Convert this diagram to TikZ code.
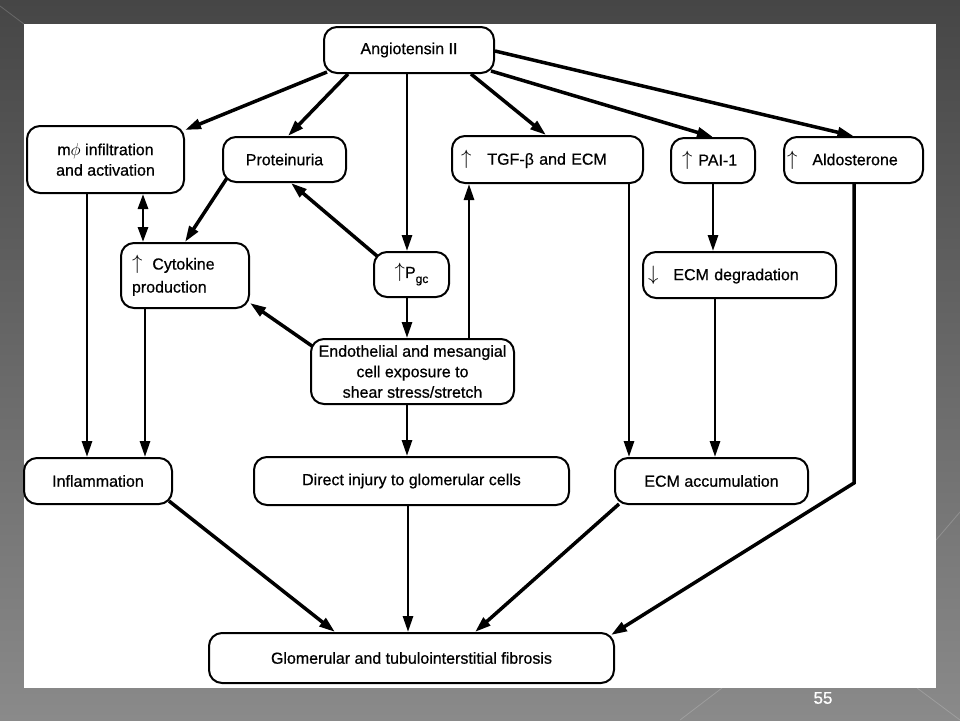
\documentclass[tikz,border=0pt]{standalone}
\usepackage{fontspec}
\setmainfont{Liberation Sans}[FakeBold=0.6]
\usetikzlibrary{arrows.meta}
\definecolor{bgtop}{HTML}{464646}
\definecolor{bgbot}{HTML}{8A8A8A}
\newcommand{\upa}{{\fontsize{21}{21}\selectfont$\uparrow$}}
\newcommand{\dna}{{\fontsize{21}{21}\selectfont$\downarrow$}}
\begin{document}
\begin{tikzpicture}[x=1pt,y=-1pt,
  box/.style={draw=black, line width=2pt, rounded corners=13pt, fill=white,
    inner sep=0pt, align=center, font=\fontsize{16}{20.5}\selectfont},
  lbox/.style={box, align=left},
  conn/.style={line width=2.8pt, -{Triangle[length=16pt,width=10pt]}},
  diag/.style={conn, line width=3.5pt},
  dbl/.style={line width=2.8pt, {Triangle[length=15pt,width=10pt]}-{Triangle[length=15pt,width=10pt]}},
  deco/.style={draw=white, opacity=0.18, line width=0.8pt}]
% background
\useasboundingbox (0,0) rectangle (960,720);
\shade[top color=bgtop, bottom color=bgbot] (0,0) rectangle (960,720);
\draw[deco] (0,6) -- (24,24);
\draw[deco] (680,720) -- (722,688);
\draw[deco] (917,688) -- (960,720);
\draw[deco] (936,540) -- (960,512);
\fill[white] (24,24) rectangle (936,688);
\node[text=white, font=\fontsize{17}{17}\selectfont] (pg) at (823,698) {55};

% boxes
\node[box, minimum width=170pt, minimum height=46pt] (ang) at (409,50) {Angiotensin II};
\node[box, minimum width=157pt, minimum height=67pt] (mphi) at (105.5,159.5)
  {m$\phi$ infiltration\\and activation};
\node[box, minimum width=123pt, minimum height=45pt] (prot) at (284.5,159.5) {Proteinuria};
\node[lbox, text width=173pt, inner xsep=9pt, minimum height=47pt] (tgf) at (547.5,159.5)
  {\upa\hspace{16pt}TGF-β and ECM};
\node[lbox, text width=62pt, inner xsep=11pt, minimum height=45pt] (pai) at (713,160.5)
  {\upa\hspace{6pt}PAI-1};
\node[lbox, text width=133pt, inner xsep=3pt, minimum height=46pt] (ald) at (853.5,160)
  {\upa\hspace{15pt}Aldosterone};
\node[lbox, text width=106pt, inner xsep=11pt, minimum height=65pt,
  font=\fontsize{16}{23}\selectfont] (cyto) at (185,275.5)
  {\upa\hspace{10pt}Cytokine\\production};
\node[box, minimum width=75pt, minimum height=45pt] (pgc) at (411.5,274.5)
  {\upa P\raisebox{-5pt}{\fontsize{12}{12}\selectfont gc}};
\node[box, minimum width=203pt, minimum height=65pt] (endo) at (412.5,371.5)
  {Endothelial and mesangial\\cell exposure to\\shear stress/stretch};
\node[lbox, text width=183pt, inner xsep=5pt, minimum height=46pt] (ecmdeg) at (739.5,275)
  {\dna\hspace{15pt}ECM degradation};
\node[box, minimum width=148pt, minimum height=46pt] (infl) at (98,481) {Inflammation};
\node[box, minimum width=315pt, minimum height=48pt] (direct) at (411.5,481)
  {Direct injury to glomerular cells};
\node[box, minimum width=193pt, minimum height=46pt] (ecmacc) at (711.5,481) {ECM accumulation};
\node[box, minimum width=405pt, minimum height=50pt] (glom) at (411.5,658)
  {Glomerular and tubulointerstitial fibrosis};

% connectors from Angiotensin II
\draw[diag] ([xshift=4pt,yshift=2pt]ang.south west) -- ([yshift=-5pt]mphi.north east);
\draw[diag] ([xshift=25pt]ang.south west) -- ([xshift=3.5pt]prot.north);
\draw[conn] ([xshift=-2pt]ang.south) -- ([xshift=-4.5pt]pgc.north);
\draw[diag] ([xshift=-24pt]ang.south east) -- ([xshift=-1.5pt]tgf.north);
\draw[diag] ([xshift=-4pt,yshift=3pt]ang.south east) -- (pai.north);
\draw[diag] ([yshift=-1pt]ang.east) -- (ald.north);

% middle
\draw[conn] ([xshift=-18.5pt]mphi.south) -- ([xshift=-11pt]infl.north);
\draw[dbl] ([xshift=37.5pt]mphi.south) -- ([xshift=-42pt]cyto.north);
\draw[diag] ([xshift=5pt,yshift=5pt]prot.south west) -- (cyto.north);
\draw[diag] ([xshift=4pt,yshift=-5pt]pgc.north west) -- ([xshift=6.5pt]prot.south);
\draw[conn] ([xshift=-4.5pt]pgc.south) -- ([xshift=-5.5pt]endo.north);
\draw[diag] ([xshift=2pt,yshift=-8pt]endo.north west) -- ([yshift=6pt]cyto.south east);
\draw[conn] ([xshift=56.5pt]endo.north) -- ([xshift=-78.5pt]tgf.south);
\draw[conn] ([xshift=-40pt]cyto.south) -- ([xshift=47pt]infl.north);
\draw[conn] ([xshift=-5.5pt]endo.south) -- ([xshift=-4.5pt]direct.north);
\draw[conn] ([xshift=81.5pt]tgf.south) -- ([xshift=-82.5pt]ecmacc.north);
\draw[conn] (pai.south) -- ([xshift=-26.5pt]ecmdeg.north);
\draw[conn] ([xshift=-24.5pt]ecmdeg.south) -- ([xshift=3.5pt]ecmacc.north);

% to fibrosis
\coordinate (bend) at (854,483);
\draw[diag, line join=miter] ([xshift=0.5pt]ald.south) -- (bend) -- ([xshift=-4pt,yshift=-3pt]glom.north east);
\draw[diag] ([xshift=-4pt,yshift=4pt]infl.south east) -- ([xshift=127pt]glom.north west);
\draw[conn] ([xshift=-3.5pt]direct.south) -- ([xshift=-3.5pt]glom.north);
\draw[diag] ([xshift=5pt,yshift=1pt]ecmacc.south west) -- ([xshift=63.5pt]glom.north);
\end{tikzpicture}
\end{document}
